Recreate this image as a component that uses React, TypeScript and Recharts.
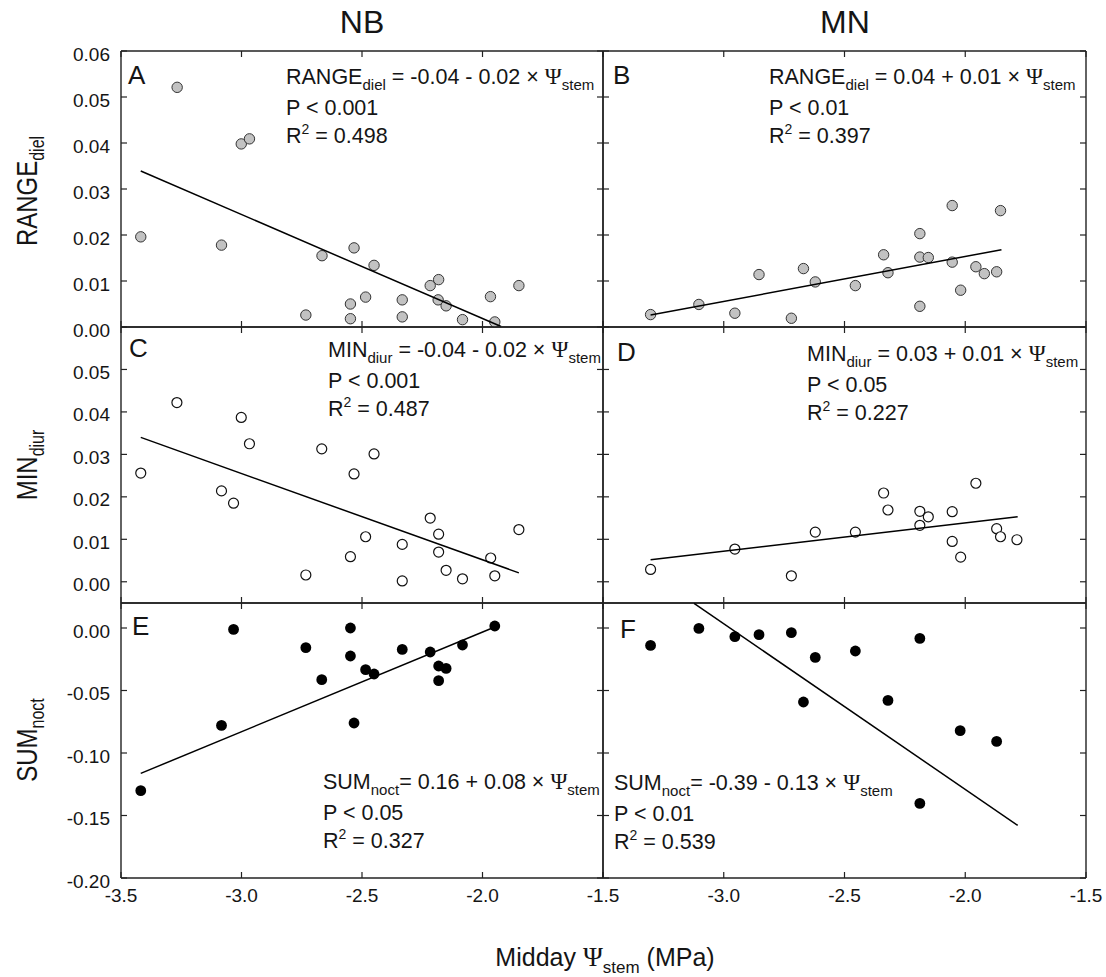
import { ScatterChart, Scatter, XAxis, YAxis } from 'recharts'

// Midday stem water potential vs. three dendrometer indices, two sites (NB / MN)

type Pt = { x: number; y: number }

// ── A: RANGE diel, NB ──
const rangeNB: Pt[] = [
  { x: -3.418, y: 0.0196 }, { x: -3.267, y: 0.0521 }, { x: -3.083, y: 0.0178 },
  { x: -3.001, y: 0.0398 }, { x: -2.967, y: 0.0409 }, { x: -2.733, y: 0.0026 },
  { x: -2.666, y: 0.0155 }, { x: -2.548, y: 0.0050 }, { x: -2.548, y: 0.0018 },
  { x: -2.533, y: 0.0172 }, { x: -2.485, y: 0.0065 }, { x: -2.450, y: 0.0134 },
  { x: -2.333, y: 0.0059 }, { x: -2.333, y: 0.0022 }, { x: -2.217, y: 0.0090 },
  { x: -2.182, y: 0.0103 }, { x: -2.184, y: 0.0059 }, { x: -2.151, y: 0.0046 },
  { x: -2.083, y: 0.0016 }, { x: -1.967, y: 0.0066 }, { x: -1.949, y: 0.0011 },
  { x: -1.849, y: 0.0090 },
]
const fitRangeNB: Pt[] = [{ x: -3.418, y: 0.0339 }, { x: -1.923, y: 0.0001 }]

// ── B: RANGE diel, MN ──
const rangeMN: Pt[] = [
  { x: -3.303, y: 0.0027 }, { x: -3.103, y: 0.0049 }, { x: -2.954, y: 0.0030 },
  { x: -2.854, y: 0.0114 }, { x: -2.720, y: 0.0019 }, { x: -2.670, y: 0.0127 },
  { x: -2.621, y: 0.0098 }, { x: -2.455, y: 0.0090 }, { x: -2.338, y: 0.0157 },
  { x: -2.320, y: 0.0118 }, { x: -2.188, y: 0.0203 }, { x: -2.188, y: 0.0152 },
  { x: -2.153, y: 0.0151 }, { x: -2.188, y: 0.0045 }, { x: -2.054, y: 0.0264 },
  { x: -2.054, y: 0.0141 }, { x: -2.019, y: 0.0080 }, { x: -1.956, y: 0.0131 },
  { x: -1.921, y: 0.0116 }, { x: -1.870, y: 0.0120 }, { x: -1.854, y: 0.0253 },
]
const fitRangeMN: Pt[] = [{ x: -3.303, y: 0.0026 }, { x: -1.850, y: 0.0168 }]

// ── C: MIN diur, NB ──
const minNB: Pt[] = [
  { x: -3.418, y: 0.0256 }, { x: -3.268, y: 0.0422 }, { x: -3.001, y: 0.0387 },
  { x: -2.967, y: 0.0325 }, { x: -3.083, y: 0.0214 }, { x: -3.033, y: 0.0185 },
  { x: -2.667, y: 0.0313 }, { x: -2.450, y: 0.0301 }, { x: -2.533, y: 0.0254 },
  { x: -2.733, y: 0.0016 }, { x: -2.548, y: 0.0059 }, { x: -2.485, y: 0.0106 },
  { x: -2.333, y: 0.0088 }, { x: -2.333, y: 0.0002 }, { x: -2.217, y: 0.0150 },
  { x: -2.182, y: 0.0112 }, { x: -2.182, y: 0.0070 }, { x: -2.151, y: 0.0027 },
  { x: -2.083, y: 0.0007 }, { x: -1.966, y: 0.0056 }, { x: -1.949, y: 0.0014 },
  { x: -1.849, y: 0.0123 },
]
const fitMinNB: Pt[] = [{ x: -3.418, y: 0.0340 }, { x: -1.849, y: 0.0021 }]

// ── D: MIN diur, MN ──
const minMN: Pt[] = [
  { x: -3.303, y: 0.0029 }, { x: -2.954, y: 0.0077 }, { x: -2.720, y: 0.0014 },
  { x: -2.621, y: 0.0117 }, { x: -2.455, y: 0.0117 }, { x: -2.338, y: 0.0209 },
  { x: -2.320, y: 0.0169 }, { x: -2.188, y: 0.0166 }, { x: -2.153, y: 0.0153 },
  { x: -2.188, y: 0.0133 }, { x: -2.054, y: 0.0165 }, { x: -2.054, y: 0.0095 },
  { x: -2.019, y: 0.0058 }, { x: -1.956, y: 0.0232 }, { x: -1.870, y: 0.0125 },
  { x: -1.854, y: 0.0106 }, { x: -1.786, y: 0.0099 },
]
const fitMinMN: Pt[] = [{ x: -3.303, y: 0.0052 }, { x: -1.783, y: 0.0153 }]

// ── E: SUM noct, NB ──
const sumNB: Pt[] = [
  { x: -3.418, y: -0.1301 }, { x: -3.083, y: -0.0779 }, { x: -3.033, y: -0.0011 },
  { x: -2.733, y: -0.0157 }, { x: -2.667, y: -0.0413 }, { x: -2.548, y: 0.0000 },
  { x: -2.548, y: -0.0224 }, { x: -2.533, y: -0.0760 }, { x: -2.485, y: -0.0333 },
  { x: -2.450, y: -0.0368 }, { x: -2.333, y: -0.0171 }, { x: -2.217, y: -0.0192 },
  { x: -2.182, y: -0.0304 }, { x: -2.182, y: -0.0421 }, { x: -2.151, y: -0.0323 },
  { x: -2.083, y: -0.0136 }, { x: -1.949, y: 0.0016 },
]
const fitSumNB: Pt[] = [{ x: -3.418, y: -0.1163 }, { x: -1.949, y: 0.0008 }]

// ── F: SUM noct, MN ──
const sumMN: Pt[] = [
  { x: -3.303, y: -0.0139 }, { x: -3.103, y: -0.0003 }, { x: -2.954, y: -0.0069 },
  { x: -2.854, y: -0.0053 }, { x: -2.720, y: -0.0037 }, { x: -2.670, y: -0.0592 },
  { x: -2.621, y: -0.0235 }, { x: -2.455, y: -0.0184 }, { x: -2.320, y: -0.0579 },
  { x: -2.188, y: -0.0083 }, { x: -2.188, y: -0.1403 }, { x: -2.021, y: -0.0821 },
  { x: -1.870, y: -0.0907 },
]
const fitSumMN: Pt[] = [{ x: -3.123, y: 0.0197 }, { x: -1.783, y: -0.1579 }]

// axes
const X_DOMAIN: [number, number] = [-3.5, -1.5]
const X_TICKS = [-3.5, -3.0, -2.5, -2.0, -1.5]
const X_LABELS_MN = [-3.0, -2.5, -2.0, -1.5]
const Y_TICKS_RANGE = [0, 0.01, 0.02, 0.03, 0.04, 0.05, 0.06]
const Y_TICKS_MIN = [0, 0.01, 0.02, 0.03, 0.04, 0.05]
const Y_TICKS_SUM = [-0.2, -0.15, -0.1, -0.05, 0]

const SANS = 'Arial, "Liberation Sans", Helvetica, sans-serif'
const SERIF = '"Liberation Serif", "Times New Roman", serif'
const INK = '#151515'
const TICK_LEN = 6
const AXIS = { stroke: '#222', strokeWidth: 1.4 }

type Side = 'bottom' | 'top' | 'left' | 'right'

// ticks point inward; labels only where listed
const edgeTick = (side: Side, labelled: number[] | null, digits: number) => (props: any) => {
  const { x, y, payload } = props
  const v: number = payload.value
  const show = !!labelled && labelled.some(t => Math.abs(t - v) < 1e-9)
  let line = null
  let label = null
  if (side === 'bottom') {
    line = <line x1={x} x2={x} y1={y} y2={y - TICK_LEN} />
    if (show) label = (
      <text x={x} y={y + 11} dy="0.71em" textAnchor="middle">{v.toFixed(digits)}</text>
    )
  } else if (side === 'top') {
    line = <line x1={x} x2={x} y1={y} y2={y + TICK_LEN} />
  } else if (side === 'left') {
    line = <line x1={x} x2={x + TICK_LEN} y1={y} y2={y} />
    if (show) label = (
      <text x={x - 11} y={y} dy="0.5em" textAnchor="end">{v.toFixed(digits)}</text>
    )
  } else {
    line = <line x1={x} x2={x - TICK_LEN} y1={y} y2={y} />
  }
  return (
    <g stroke="none">
      <g stroke="#222" strokeWidth={1.2}>{line}</g>
      <g fill={INK} fontFamily={SANS} fontSize={19}>{label}</g>
    </g>
  )
}

type DotKind = 'gray' | 'open' | 'solid'

const dotShape = (kind: DotKind) => (p: any) => {
  if (kind === 'gray')
    return <circle cx={p.cx} cy={p.cy} r={5.2} fill="#c2c2c2" stroke="#333" strokeWidth={1} />
  if (kind === 'open')
    return <circle cx={p.cx} cy={p.cy} r={5} fill="#fff" stroke="#111" strokeWidth={1.2} />
  return <circle cx={p.cx} cy={p.cy} r={5.4} fill="#000" />
}

const noShape = () => <g />

interface PanelProps {
  left: number
  top: number
  w: number
  h: number
  yDomain: [number, number]
  yTicks: number[]
  yLabels: number[] | null
  xLabels: number[] | null
  points: Pt[]
  fit: Pt[]
  dot: DotKind
}

// outer room around each plot box; axes take 1px each (a 0px axis is not drawn)
const ML = 70
const MR = 20
const MT = 10
const MB = 40

function Panel({ left, top, w, h, yDomain, yTicks, yLabels, xLabels, points, fit, dot }: PanelProps) {
  return (
    <div style={{ position: 'absolute', left: left - ML, top: top - MT }}>
      <ScatterChart
        width={w + ML + MR}
        height={h + MT + MB}
        margin={{ top: MT - 1, right: MR - 1, bottom: MB - 1, left: ML - 1 }}
      >
        <XAxis
          xAxisId="b" orientation="bottom" type="number" dataKey="x"
          domain={X_DOMAIN} ticks={X_TICKS} interval={0} height={1}
          tickSize={0} tickMargin={0} tickLine={false} axisLine={AXIS}
          tick={edgeTick('bottom', xLabels, 1)}
        />
        <XAxis
          xAxisId="t" orientation="top" type="number" dataKey="x"
          domain={X_DOMAIN} ticks={X_TICKS} interval={0} height={1} allowDataOverflow
          tickSize={0} tickMargin={0} tickLine={false} axisLine={AXIS}
          tick={edgeTick('top', null, 1)}
        />
        <YAxis
          yAxisId="l" orientation="left" type="number" dataKey="y"
          domain={yDomain} ticks={yTicks} interval={0} width={1}
          tickSize={0} tickMargin={0} tickLine={false} axisLine={AXIS}
          tick={edgeTick('left', yLabels, 2)}
        />
        <YAxis
          yAxisId="r" orientation="right" type="number" dataKey="y"
          domain={yDomain} ticks={yTicks} interval={0} width={1} allowDataOverflow
          tickSize={0} tickMargin={0} tickLine={false} axisLine={AXIS}
          tick={edgeTick('right', null, 2)}
        />
        <Scatter xAxisId="b" yAxisId="l" data={points} shape={dotShape(dot)} isAnimationActive={false} />
        <Scatter
          xAxisId="b" yAxisId="l" data={fit} shape={noShape}
          line={{ stroke: '#000', strokeWidth: 1.5 }} isAnimationActive={false}
        />
      </ScatterChart>
    </div>
  )
}

function Equation({ x, y, name, sub, rhs, p, r2 }: {
  x: number; y: number; name: string; sub: string; rhs: string; p: string; r2: string
}) {
  return (
    <g fontFamily={SANS} fontSize={21.5} fill={INK}>
      <text x={x} y={y}>
        {name}
        <tspan fontSize={15} dy={6}>{sub}</tspan>
        <tspan dy={-6}>{rhs}</tspan>
        <tspan fontFamily={SERIF} fontSize={23}>Ψ</tspan>
        <tspan fontSize={15} dy={6}>stem</tspan>
      </text>
      <text x={x} y={y + 31}>{p}</text>
      <text x={x} y={y + 59}>
        R<tspan fontSize={14} dy={-9}>2</tspan><tspan dy={9}>{' = ' + r2}</tspan>
      </text>
    </g>
  )
}

function YTitle({ x, y, name, sub }: { x: number; y: number; name: string; sub: string }) {
  return (
    <text
      transform={`translate(${x},${y}) scale(1.22,1) rotate(-90)`}
      textAnchor="middle" fontFamily={SANS} fontSize={24} fill={INK}
    >
      {name}<tspan fontSize={16} dy={6}>{sub}</tspan>
    </text>
  )
}

export default function App() {
  return (
    <div style={{ position: 'absolute', left: 0, top: 0, width: 1106, height: 977, background: '#fff' }}>
      <Panel left={121} top={51} w={482} h={276} yDomain={[0, 0.06]} yTicks={Y_TICKS_RANGE}
        yLabels={Y_TICKS_RANGE} xLabels={null} points={rangeNB} fit={fitRangeNB} dot="gray" />
      <Panel left={603} top={51} w={483} h={276} yDomain={[0, 0.06]} yTicks={Y_TICKS_RANGE}
        yLabels={null} xLabels={null} points={rangeMN} fit={fitRangeMN} dot="gray" />
      <Panel left={121} top={327} w={482} h={276} yDomain={[-0.005, 0.06]} yTicks={Y_TICKS_MIN}
        yLabels={Y_TICKS_MIN} xLabels={null} points={minNB} fit={fitMinNB} dot="open" />
      <Panel left={603} top={327} w={483} h={276} yDomain={[-0.005, 0.06]} yTicks={Y_TICKS_MIN}
        yLabels={null} xLabels={null} points={minMN} fit={fitMinMN} dot="open" />
      <Panel left={121} top={603} w={482} h={275} yDomain={[-0.2, 0.02]} yTicks={Y_TICKS_SUM}
        yLabels={Y_TICKS_SUM} xLabels={X_TICKS} points={sumNB} fit={fitSumNB} dot="solid" />
      <Panel left={603} top={603} w={483} h={275} yDomain={[-0.2, 0.02]} yTicks={Y_TICKS_SUM}
        yLabels={null} xLabels={X_LABELS_MN} points={sumMN} fit={fitSumMN} dot="solid" />

      <svg width={1106} height={977} style={{ position: 'absolute', left: 0, top: 0, pointerEvents: 'none' }}>
        <g fontFamily={SANS} fill={INK}>
          <text x={362} y={33} fontSize={32} textAnchor="middle">NB</text>
          <text x={845} y={33} fontSize={32} textAnchor="middle">MN</text>

          <g fontSize={26}>
            <text x={128} y={84}>A</text>
            <text x={613} y={84}>B</text>
            <text x={129} y={357}>C</text>
            <text x={617} y={361}>D</text>
            <text x={132} y={635}>E</text>
            <text x={620} y={638}>F</text>
          </g>

          <text x={605} y={966} fontSize={25} textAnchor="middle">
            {'Midday '}
            <tspan fontFamily={SERIF} fontSize={27}>Ψ</tspan>
            <tspan fontSize={17} dy={7}>stem</tspan>
            <tspan dy={-7}>{' (MPa)'}</tspan>
          </text>
        </g>

        <YTitle x={37} y={191} name="RANGE" sub="diel" />
        <YTitle x={37} y={465} name="MIN" sub="diur" />
        <YTitle x={37} y={740} name="SUM" sub="noct" />

        <Equation x={286} y={84} name="RANGE" sub="diel" rhs=" = -0.04 - 0.02 × " p="P < 0.001" r2="0.498" />
        <Equation x={769} y={84} name="RANGE" sub="diel" rhs=" = 0.04 + 0.01 × " p="P < 0.01" r2="0.397" />
        <Equation x={328} y={357} name="MIN" sub="diur" rhs=" = -0.04 - 0.02 × " p="P < 0.001" r2="0.487" />
        <Equation x={807} y={361} name="MIN" sub="diur" rhs=" = 0.03 + 0.01 × " p="P < 0.05" r2="0.227" />
        <Equation x={323} y={789} name="SUM" sub="noct" rhs="= 0.16 + 0.08 × " p="P < 0.05" r2="0.327" />
        <Equation x={614} y={790} name="SUM" sub="noct" rhs="= -0.39 - 0.13 × " p="P < 0.01" r2="0.539" />
      </svg>
    </div>
  )
}
